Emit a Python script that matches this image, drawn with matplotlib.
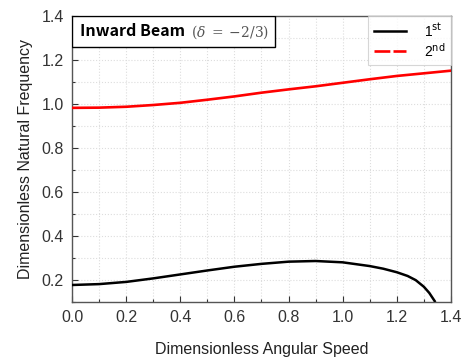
import numpy as np
import matplotlib
matplotlib.use('Agg')
import matplotlib.pyplot as plt
from matplotlib.lines import Line2D
from matplotlib.patches import Rectangle
from matplotlib.ticker import MultipleLocator, FormatStrFormatter

plt.rcParams['font.family'] = ['Liberation Sans', 'DejaVu Sans']
plt.rcParams['mathtext.fontset'] = 'dejavusans'

# 无量纲角速度
speed = [0.0, 0.1, 0.2, 0.3, 0.4, 0.5, 0.6, 0.7, 0.8, 0.9, 1.0, 1.1, 1.15, 1.2,
         1.24, 1.27, 1.3, 1.32, 1.34]
# 第一阶频率
freq_1st = [0.178, 0.182, 0.192, 0.208, 0.226, 0.244, 0.261, 0.274, 0.284, 0.287,
            0.281, 0.264, 0.252, 0.236, 0.219, 0.200, 0.170, 0.142, 0.105]

speed_2nd = [0.0, 0.1, 0.2, 0.3, 0.4, 0.5, 0.6, 0.7, 0.8, 0.9, 1.0, 1.1, 1.2, 1.3, 1.4]
# 第二阶频率
freq_2nd = [0.983, 0.984, 0.988, 0.996, 1.006, 1.020, 1.035, 1.052, 1.067, 1.081,
            1.097, 1.113, 1.128, 1.140, 1.152]

fig = plt.figure(figsize=(4.62, 3.58), dpi=100)
ax = fig.add_axes([0.156, 0.156, 0.82, 0.799])

ax.plot(speed, freq_1st, color='black', linewidth=1.8, zorder=3, solid_joinstyle='round')
ax.plot(speed_2nd, freq_2nd, color='red', linewidth=1.9, zorder=3, solid_joinstyle='round')

ax.set_xlim(0, 1.4)
ax.set_ylim(0.1, 1.4)
ax.xaxis.set_major_locator(MultipleLocator(0.2))
ax.xaxis.set_minor_locator(MultipleLocator(0.1))
ax.yaxis.set_minor_locator(MultipleLocator(0.1))
ax.set_yticks([0.2, 0.4, 0.6, 0.8, 1.0, 1.2, 1.4])
ax.xaxis.set_major_formatter(FormatStrFormatter('%.1f'))
ax.yaxis.set_major_formatter(FormatStrFormatter('%.1f'))

ax.tick_params(which='major', direction='in', length=4, width=0.8, labelsize=11.5,
               colors='#333333', pad=6)
ax.tick_params(which='minor', direction='in', length=2.5, width=0.8, colors='#333333')
ax.grid(which='both', color='#dddddd', linestyle=':', linewidth=0.8)
for s in ax.spines.values():
    s.set_color('#555555')
    s.set_linewidth(1.0)

ax.set_xlabel('Dimensionless Angular Speed', fontsize=11.5, color='#222222', labelpad=12)
ax.set_ylabel('Dimensionless Natural Frequency', fontsize=11.5, color='#222222', labelpad=6)

# 标题框
box = Rectangle((0, 0.8935), 0.5355, 0.1065, transform=ax.transAxes,
                facecolor='white', edgecolor='black', linewidth=1.0, zorder=4)
ax.add_patch(box)
t1 = ax.text(0.022, 0.947, 'Inward Beam', transform=ax.transAxes, fontsize=11.5,
             fontweight='bold', family=['Noto Sans CJK KR', 'DejaVu Sans'],
             va='center', ha='left', zorder=5)
ax.annotate(r'$(\delta\;=\;{-}2/3)$', xy=(1, 0.5), xycoords=t1, xytext=(4, -0.5),
            textcoords='offset points', fontsize=10, color='#555555',
            va='center', ha='left', zorder=5, math_fontfamily='dejavuserif')

handles = [Line2D([], [], color='black', linewidth=1.8),
           Line2D([], [], color='red', linewidth=1.9, linestyle=(0, (6, 1.2)))]
leg = ax.legend(handles, [r'1$^{\mathrm{st}}$', r'2$^{\mathrm{nd}}$'], loc='upper right',
                fontsize=10, frameon=True, fancybox=False, handlelength=2.3,
                borderaxespad=0, labelspacing=0.15, borderpad=0.4, handletextpad=1.3)
leg.get_frame().set_edgecolor('#cccccc')
leg.get_frame().set_linewidth(0.8)
leg.set_zorder(5)

fig.savefig('out.png', dpi=100)
